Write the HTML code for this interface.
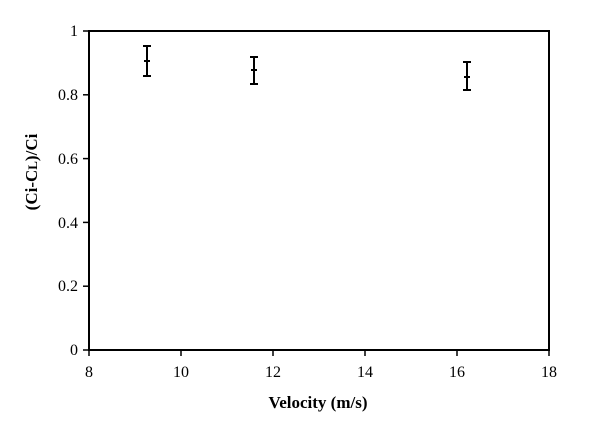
<!DOCTYPE html>
<html><head><meta charset="utf-8"><style>body{margin:0;background:#fff}</style></head><body>
<svg width="600" height="420" xmlns="http://www.w3.org/2000/svg" font-family="Liberation Serif, serif">
<rect width="600" height="420" fill="#fff"/>
<rect x="89" y="31" width="460" height="319" fill="none" stroke="#000" stroke-width="2"/>
<g stroke="#000" stroke-width="1.5">
<line x1="83" y1="31" x2="89" y2="31"/><line x1="83" y1="94.8" x2="89" y2="94.8"/><line x1="83" y1="158.6" x2="89" y2="158.6"/><line x1="83" y1="222.4" x2="89" y2="222.4"/><line x1="83" y1="286.2" x2="89" y2="286.2"/><line x1="83" y1="350" x2="89" y2="350"/>
<line x1="89" y1="350" x2="89" y2="356"/><line x1="181" y1="350" x2="181" y2="356"/><line x1="273" y1="350" x2="273" y2="356"/><line x1="365" y1="350" x2="365" y2="356"/><line x1="457" y1="350" x2="457" y2="356"/><line x1="549" y1="350" x2="549" y2="356"/>
</g>
<g font-size="16" text-anchor="end">
<text x="78" y="36">1</text><text x="78" y="100">0.8</text><text x="78" y="164">0.6</text><text x="78" y="228">0.4</text><text x="78" y="291">0.2</text><text x="78" y="355">0</text>
</g>
<g font-size="16" text-anchor="middle">
<text x="89" y="377">8</text><text x="181" y="377">10</text><text x="273" y="377">12</text><text x="365" y="377">14</text><text x="457" y="377">16</text><text x="549" y="377">18</text>
</g>
<g stroke="#000" stroke-width="2">
<line x1="147" y1="46" x2="147" y2="76"/><line x1="143" y1="46" x2="151" y2="46"/><line x1="143" y1="76" x2="151" y2="76"/><line x1="144" y1="61" x2="150" y2="61"/>
<line x1="254" y1="57" x2="254" y2="84"/><line x1="250" y1="57" x2="258" y2="57"/><line x1="250" y1="84" x2="258" y2="84"/><line x1="251" y1="70" x2="257" y2="70"/>
<line x1="467" y1="62" x2="467" y2="90"/><line x1="463" y1="62" x2="471" y2="62"/><line x1="463" y1="90" x2="471" y2="90"/><line x1="464" y1="77" x2="470" y2="77"/>
</g>
<text x="318" y="408" font-size="17" font-weight="bold" text-anchor="middle">Velocity (m/s)</text>
<text transform="translate(37,172) rotate(-90)" font-size="17" font-weight="bold" text-anchor="middle">(Ci-C<tspan font-size="13">L</tspan>)/Ci</text>
</svg>
</body></html>
